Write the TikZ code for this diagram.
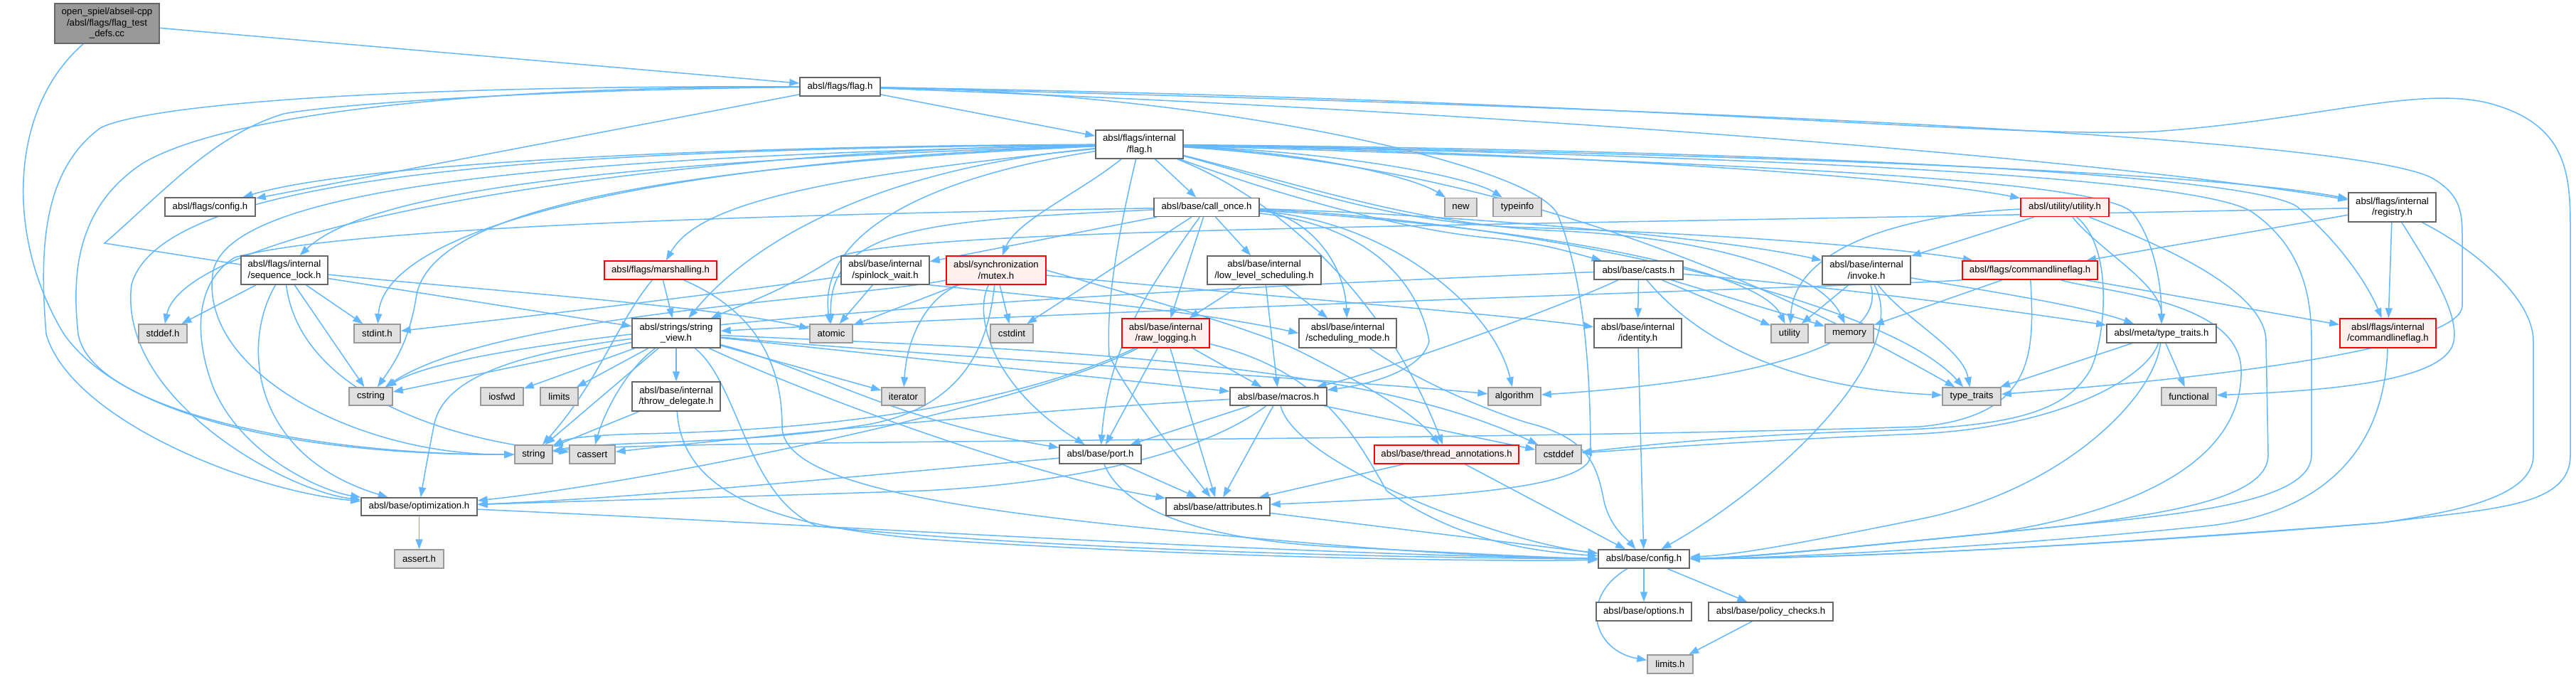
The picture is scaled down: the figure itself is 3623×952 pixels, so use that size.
\documentclass[tikz,border=0pt]{standalone}
\usepackage{fontspec}
\setmainfont{Liberation Sans}
\usetikzlibrary{arrows.meta}
\definecolor{edgec}{HTML}{63B8FF}
\definecolor{bd}{HTML}{666666}
\definecolor{bdx}{HTML}{999999}
\definecolor{fx}{HTML}{E0E0E0}
\definecolor{fr}{HTML}{FFF0F0}
\definecolor{rootf}{HTML}{999999}
\newcommand{\lbl}{\fontsize{13.2}{15.5}\selectfont}
\pgfdeclarelayer{bg}
\pgfdeclarelayer{canvasbg}
\pgfsetlayers{canvasbg,bg,main}
\tikzset{
 nd/.style={draw=bd, fill=white, line width=1.5pt, inner sep=0pt, font=\lbl, align=center},
 ext/.style={nd, draw=bdx, fill=fx},
 trunc/.style={nd, draw=red, fill=fr},
 rootn/.style={nd, draw=bd, fill=rootf},
 e/.style={draw=edgec, line width=1.5pt, -{Triangle[length=14pt,width=10pt]}},
}
\begin{document}
\begin{tikzpicture}[x=1pt,y=-1pt]
\useasboundingbox (0,0) rectangle (3623,952);
\begin{pgfonlayer}{canvasbg}
\fill[white] (0,0) rectangle (3623,952);
\end{pgfonlayer}
% nodes
\node[rootn, minimum width=147pt, minimum height=56pt] (root) at (150.5,33) {open\_spiel/abseil-cpp\\/absl/flags/flag\_test\\\_defs.cc};
\node[nd, minimum width=113pt, minimum height=26pt] (flagh) at (1181.5,122) {absl/flags/flag.h};
\node[nd, minimum width=123pt, minimum height=40pt] (iflag) at (1602.5,203) {absl/flags/internal\\/flag.h};
\node[nd, minimum width=127pt, minimum height=26pt] (fconfig) at (295.5,291) {absl/flags/config.h};
\node[nd, minimum width=148pt, minimum height=26pt] (callonce) at (1697,291.5) {absl/base/call\_once.h};
\node[ext, minimum width=45pt, minimum height=26pt] (newh) at (2054.5,291.5) {new};
\node[ext, minimum width=68pt, minimum height=26pt] (typeinfo) at (2134,291.5) {typeinfo};
\node[trunc, minimum width=124pt, minimum height=26pt] (utilityh) at (2904,291.5) {absl/utility/utility.h};
\node[nd, minimum width=123pt, minimum height=41pt] (registry) at (3364.5,291.5) {absl/flags/internal\\/registry.h};
\node[nd, minimum width=122pt, minimum height=40pt] (seqlock) at (400,380) {absl/flags/internal\\/sequence\_lock.h};
\node[trunc, minimum width=158pt, minimum height=26pt] (marshalling) at (929,380) {absl/flags/marshalling.h};
\node[nd, minimum width=124pt, minimum height=40pt] (spinlock) at (1245,380) {absl/base/internal\\/spinlock\_wait.h};
\node[trunc, minimum width=140pt, minimum height=40pt] (mutex) at (1401,380) {absl/synchronization\\/mutex.h};
\node[nd, minimum width=160pt, minimum height=40pt] (lowlevel) at (1778,380) {absl/base/internal\\/low\_level\_scheduling.h};
\node[nd, minimum width=125pt, minimum height=26pt] (casts) at (2304.5,380) {absl/base/casts.h};
\node[nd, minimum width=124pt, minimum height=40pt] (invoke) at (2625,380) {absl/base/internal\\/invoke.h};
\node[trunc, minimum width=190pt, minimum height=26pt] (cmdflag) at (2855,380) {absl/flags/commandlineflag.h};
\node[ext, minimum width=68pt, minimum height=26pt] (stddef) at (229,469) {stddef.h};
\node[ext, minimum width=65pt, minimum height=26pt] (stdint) at (530.5,469) {stdint.h};
\node[nd, minimum width=124pt, minimum height=41pt] (strview) at (951,468.5) {absl/strings/string\\\_view.h};
\node[ext, minimum width=60pt, minimum height=26pt] (atomic) at (1169,469) {atomic};
\node[ext, minimum width=60pt, minimum height=26pt] (cstdint) at (1423,469) {cstdint};
\node[trunc, minimum width=123pt, minimum height=41pt] (rawlog) at (1639.5,468.5) {absl/base/internal\\/raw\_logging.h};
\node[nd, minimum width=137pt, minimum height=41pt] (schedmode) at (1895.5,468.5) {absl/base/internal\\/scheduling\_mode.h};
\node[nd, minimum width=123pt, minimum height=41pt] (identity) at (2303.5,468.5) {absl/base/internal\\/identity.h};
\node[ext, minimum width=52pt, minimum height=26pt] (utility) at (2517,469) {utility};
\node[ext, minimum width=68pt, minimum height=26pt] (memory) at (2601,469) {memory};
\node[nd, minimum width=154pt, minimum height=26pt] (metatt) at (3040,469) {absl/meta/type\_traits.h};
\node[trunc, minimum width=135pt, minimum height=41pt] (icmdflag) at (3358.5,468.5) {absl/flags/internal\\/commandlineflag.h};
\node[ext, minimum width=61pt, minimum height=25pt] (cstring) at (521.5,557.5) {cstring};
\node[ext, minimum width=60pt, minimum height=25pt] (iosfwd) at (706,557.5) {iosfwd};
\node[ext, minimum width=53pt, minimum height=25pt] (limits) at (786.5,557.5) {limits};
\node[nd, minimum width=124pt, minimum height=41pt] (throwdel) at (951,557.5) {absl/base/internal\\/throw\_delegate.h};
\node[ext, minimum width=61pt, minimum height=25pt] (iterator) at (1270.5,557.5) {iterator};
\node[nd, minimum width=136pt, minimum height=25pt] (macros) at (1798,557.5) {absl/base/macros.h};
\node[ext, minimum width=74pt, minimum height=25pt] (algorithm) at (2130,557.5) {algorithm};
\node[ext, minimum width=82pt, minimum height=25pt] (typetraits) at (2773,557.5) {type\_traits};
\node[ext, minimum width=77pt, minimum height=25pt] (functional) at (3078.5,557.5) {functional};
\node[ext, minimum width=53pt, minimum height=26pt] (string) at (750.5,639) {string};
\node[ext, minimum width=64pt, minimum height=26pt] (cassert) at (833,639) {cassert};
\node[nd, minimum width=115pt, minimum height=26pt] (port) at (1547.5,639) {absl/base/port.h};
\node[trunc, minimum width=203pt, minimum height=26pt] (threadann) at (2034.5,639) {absl/base/thread\_annotations.h};
\node[ext, minimum width=64pt, minimum height=26pt] (cstddef) at (2192,639) {cstddef};
\node[nd, minimum width=163pt, minimum height=25pt] (optim) at (589.5,712.5) {absl/base/optimization.h};
\node[nd, minimum width=146pt, minimum height=25pt] (attributes) at (1713,712.5) {absl/base/attributes.h};
\node[ext, minimum width=69pt, minimum height=26pt] (assert) at (589.5,786) {assert.h};
\node[nd, minimum width=128pt, minimum height=26pt] (config) at (2312,786) {absl/base/config.h};
\node[nd, minimum width=134pt, minimum height=26pt] (options) at (2312,860) {absl/base/options.h};
\node[nd, minimum width=175pt, minimum height=26pt] (policy) at (2490.5,860) {absl/base/policy\_checks.h};
\node[ext, minimum width=64pt, minimum height=26pt] (limitsh) at (2349,934) {limits.h};
\begin{pgfonlayer}{bg}
% root
\draw[e] (root) -- (flagh);
\draw[e] (root) .. controls (15,150) and (5,330) .. (90,470) .. controls (190,610) and (500,640) .. (string);
% flag.h
\draw[e] (flagh) -- (fconfig);
\draw[e] (flagh) -- (iflag);
\draw[e] (flagh) .. controls (2200,160) and (3000,230) .. (registry);
\draw[e] (flagh) .. controls (2300,140) and (2800,195) .. (3029,185) .. controls (3250,170) and (3400,120) .. (3500,145) .. controls (3615,175) and (3615,250) .. (3615,330) -- (3615,640) .. controls (3615,715) and (3500,715) .. (3350,735) .. controls (2900,770) and (2600,785) .. (config);
\draw[e] (flagh) .. controls (2300,150) and (3300,190) .. (3420,250) .. controls (3463,275) and (3463,300) .. (3463,340) -- (3463,430) .. controls (3463,480) and (3200,525) .. (typetraits);
\draw[e] (flagh) .. controls (500,120) and (200,150) .. (141,180) .. controls (60,240) and (55,350) .. (65,470) .. controls (100,590) and (350,690) .. (optim);
\draw[e] (flagh) .. controls (600,122) and (300,170) .. (200,230) .. controls (110,290) and (100,380) .. (110,470) .. controls (130,580) and (450,640) .. (string);
\draw[e] (flagh) .. controls (700,127) and (450,150) .. (399,160) .. controls (300,190) and (230,270) .. (147,342) -- (strview);
\draw[e] (flagh) .. controls (1700,130) and (2150,230) .. (2190,300) .. controls (2232,400) and (2237,550) .. (2237,640) .. controls (2237,690) and (2000,700) .. (attributes);
% internal/flag.h
\draw[e] (iflag) .. controls (900,212) and (260,320) .. (stddef);
\draw[e] (iflag) .. controls (920,227) and (540,320) .. (stdint);
\draw[e] (iflag) .. controls (1000,205) and (500,230) .. (fconfig);
\draw[e] (iflag) .. controls (900,225) and (520,265) .. (seqlock);
\draw[e] (iflag) .. controls (900,235) and (600,300) .. (585,420) .. controls (575,480) and (555,510) .. (cstring);
\draw[e] (iflag) .. controls (800,220) and (330,260) .. (300,380) .. controls (275,520) and (500,640) .. (string);
\draw[e] (iflag) .. controls (800,210) and (230,240) .. (185,400) .. controls (165,560) and (400,690) .. (optim);
\draw[e] (iflag) .. controls (1300,250) and (1150,330) .. (atomic);
\draw[e] (iflag) .. controls (1135,250) and (980,290) .. (marshalling);
\draw[e] (iflag) .. controls (1200,240) and (1040,360) .. (strview);
\draw[e] (iflag) .. controls (1520,270) and (1430,310) .. (mutex);
\draw[e] (iflag) -- (callonce);
\draw[e] (iflag) .. controls (1575,320) and (1555,420) .. (1560,500) .. controls (1590,560) and (1640,620) .. (attributes);
\draw[e] (iflag) .. controls (1800,280) and (1950,420) .. (threadann);
\draw[e] (iflag) .. controls (1800,275) and (1980,325) .. (2100,335) .. controls (2170,342) and (2210,355) .. (casts);
\draw[e] (iflag) .. controls (1850,215) and (1990,250) .. (newh);
\draw[e] (iflag) .. controls (1900,215) and (2070,250) .. (typeinfo);
\draw[e] (iflag) .. controls (2200,215) and (2700,250) .. (utilityh);
\draw[e] (iflag) .. controls (2400,215) and (3100,240) .. (registry);
\draw[e] (iflag) .. controls (1800,255) and (1950,315) .. (2150,320) .. controls (2450,330) and (2680,350) .. (cmdflag);
\draw[e] (iflag) .. controls (2400,210) and (3150,240) .. (3230,290) .. controls (3290,340) and (3330,400) .. (icmdflag);
\draw[e] (iflag) .. controls (2400,228) and (2960,250) .. (3000,300) .. controls (3030,340) and (3040,400) .. (metatt);
\draw[e] (iflag) .. controls (2200,240) and (2600,460) .. (typetraits);
\draw[e] (iflag) .. controls (1850,265) and (2000,318) .. (2200,325) .. controls (2400,335) and (2560,380) .. (memory);
\draw[e] (iflag) .. controls (2400,218) and (3100,245) .. (3170,300) .. controls (3240,350) and (3251,420) .. (3251,480) -- (3251,640) .. controls (3251,700) and (3100,720) .. (2950,735) .. controls (2700,760) and (2450,785) .. (config);
% call_once.h
\draw[e] (callonce) .. controls (1200,300) and (500,315) .. (330,362) .. controls (270,400) and (275,480) .. (300,545) .. controls (340,640) and (450,690) .. (optim);
\draw[e] (callonce) .. controls (1300,310) and (1165,320) .. (atomic);
\draw[e] (callonce) -- (spinlock);
\draw[e] (callonce) -- (cstdint);
\draw[e] (callonce) .. controls (1620,400) and (1560,480) .. (port);
\draw[e] (callonce) -- (rawlog);
\draw[e] (callonce) -- (lowlevel);
\draw[e] (callonce) .. controls (1830,300) and (1890,360) .. (schedmode);
\draw[e] (callonce) .. controls (1950,320) and (2000,420) .. (2010,480) .. controls (2000,520) and (1930,540) .. (macros);
\draw[e] (callonce) .. controls (1950,310) and (2100,430) .. (algorithm);
\draw[e] (callonce) .. controls (2100,315) and (2470,370) .. (utility);
\draw[e] (callonce) .. controls (2150,310) and (2650,420) .. (typetraits);
\draw[e] (callonce) .. controls (2000,300) and (2400,330) .. (invoke);
% sequence_lock.h
\draw[e] (seqlock) -- (stddef);
\draw[e] (seqlock) -- (stdint);
\draw[e] (seqlock) .. controls (700,410) and (1000,430) .. (atomic);
\draw[e] (seqlock) -- (cstring);
\draw[e] (seqlock) .. controls (340,480) and (350,640) .. (optim);
\draw[e] (seqlock) .. controls (420,540) and (600,615) .. (cassert);
% marshalling.h
\draw[e] (marshalling) -- (strview);
\draw[e] (marshalling) .. controls (870,450) and (840,540) .. (string);
\draw[e] (marshalling) .. controls (1070,440) and (1100,520) .. (1100,600) .. controls (1100,690) and (1400,725) .. (1800,760) .. controls (2000,778) and (2150,785) .. (config);
% spinlock_wait.h
\draw[e] (spinlock) .. controls (1000,415) and (700,450) .. (stdint);
\draw[e] (spinlock) -- (atomic);
\draw[e] (spinlock.south east) .. controls (1500,420) and (1700,440) .. (schedmode.west);
% mutex.h
\draw[e] (mutex) -- (atomic);
\draw[e] (mutex) -- (cstdint);
\draw[e] (mutex) .. controls (1200,420) and (700,440) .. (cstring);
\draw[e] (mutex) .. controls (1390,480) and (1360,580) .. (1200,600) .. controls (1050,625) and (850,620) .. (string);
\draw[e] (mutex) .. controls (1300,420) and (1275,480) .. (iterator);
\draw[e] (mutex) .. controls (1370,440) and (1390,540) .. (port);
\draw[e] (mutex) .. controls (1700,410) and (2100,440) .. (identity);
\draw[e] (mutex.east) .. controls (1650,430) and (1780,470) .. (1830,495) .. controls (1900,530) and (1990,580) .. (threadann);
% low_level_scheduling.h
\draw[e] (lowlevel) -- (rawlog);
\draw[e] (lowlevel) -- (schedmode);
\draw[e] (lowlevel) -- (macros);
% casts.h
\draw[e] (casts) .. controls (2200,430) and (1950,520) .. (macros);
\draw[e] (casts) -- (identity);
\draw[e] (casts) -- (utility);
\draw[e] (casts) -- (memory);
\draw[e] (casts) .. controls (2600,405) and (2850,440) .. (metatt);
\draw[e] (casts) .. controls (2380,470) and (2500,545) .. (typetraits);
\draw[e] (casts) .. controls (1800,400) and (700,450) .. (cstring);
% invoke.h
\draw[e] (invoke) -- (utility);
\draw[e] (invoke) .. controls (2660,500) and (2400,540) .. (algorithm);
\draw[e] (invoke) .. controls (2680,450) and (2760,490) .. (typetraits);
\draw[e] (invoke) .. controls (2800,410) and (2930,430) .. (metatt);
\draw[e] (invoke) .. controls (2690,500) and (2500,680) .. (config);
% commandlineflag.h
\draw[e] (cmdflag) -- (memory);
\draw[e] (cmdflag) .. controls (2862,500) and (2860,585) .. (2700,600) .. controls (2000,622) and (900,618) .. (string);
\draw[e] (cmdflag) .. controls (2950,410) and (3150,420) .. (3152,520) .. controls (3155,650) and (3000,720) .. (2800,750) .. controls (2600,770) and (2450,785) .. (config);
\draw[e] (cmdflag) -- (icmdflag);
\draw[e] (cmdflag.south west) .. controls (2700,400) and (1800,425) .. (strview);
% utility.h
\draw[e] (utilityh) .. controls (2700,300) and (2525,340) .. (utility);
\draw[e] (utilityh) -- (invoke);
\draw[e] (utilityh) .. controls (2950,350) and (3040,400) .. (metatt);
\draw[e] (utilityh) .. controls (3000,330) and (3187,400) .. (3187,480) -- (3190,640) .. controls (3190,700) and (3050,722) .. (2900,740) .. controls (2650,765) and (2450,785) .. (config);
\draw[e] (utilityh) .. controls (2975,350) and (2960,480) .. (2940,520) .. controls (2900,590) and (2800,602) .. (2600,607) .. controls (2400,615) and (2300,628) .. (cstddef);
% registry.h
\draw[e] (registry) -- (cmdflag);
\draw[e] (registry) -- (icmdflag);
\draw[e] (registry) .. controls (3420,380) and (3458,440) .. (3451,480) .. controls (3440,540) and (3250,550) .. (functional);
\draw[e] (registry) .. controls (3480,350) and (3563,420) .. (3563,480) -- (3563,640) .. controls (3563,700) and (3450,720) .. (3350,735) .. controls (3000,765) and (2600,785) .. (config);
\draw[e] (registry) .. controls (2000,320) and (1250,320) .. (1170,365) .. controls (1100,410) and (1040,430) .. (strview);
% string_view.h
\draw[e] (strview) -- (cstring);
\draw[e] (strview) -- (iosfwd);
\draw[e] (strview) -- (limits);
\draw[e] (strview) -- (throwdel);
\draw[e] (strview) -- (string);
\draw[e] (strview) .. controls (880,520) and (850,580) .. (cassert);
\draw[e] (strview) -- (iterator);
\draw[e] (strview) -- (macros);
\draw[e] (strview) .. controls (1300,500) and (1900,535) .. (algorithm);
\draw[e] (strview) .. controls (1400,490) and (1900,500) .. (cstddef);
\draw[e] (strview) .. controls (1150,520) and (1250,590) .. (port);
\draw[e] (strview) .. controls (1150,560) and (1450,670) .. (attributes);
\draw[e] (strview) .. controls (1040,540) and (1050,700) .. (1150,740) .. controls (1500,775) and (2000,785) .. (config);
\draw[e] (strview) .. controls (700,500) and (620,540) .. (610,600) .. controls (600,650) and (595,680) .. (optim);
% throw_delegate.h
\draw[e] (throwdel) -- (string);
\draw[e] (throwdel) .. controls (960,700) and (1100,740) .. (1300,758) .. controls (1700,785) and (2100,790) .. (config);
% raw_logging.h
\draw[e] (rawlog) .. controls (1450,560) and (1200,605) .. (900,610) .. controls (830,612) and (800,616) .. (string);
\draw[e] (rawlog) .. controls (1450,570) and (900,680) .. (optim);
\draw[e] (rawlog) -- (port);
\draw[e] (rawlog) -- (attributes);
\draw[e] (rawlog) -- (macros);
\draw[e] (rawlog) .. controls (1850,520) and (1900,600) .. (1950,690) .. controls (2050,760) and (2150,775) .. (config);
% macros.h
\draw[e] (macros) .. controls (1400,580) and (1000,620) .. (cassert);
\draw[e] (macros) -- (cstddef);
\draw[e] (macros) -- (attributes);
\draw[e] (macros) .. controls (1820,650) and (2100,760) .. (config);
\draw[e] (macros) .. controls (1690,640) and (1500,680) .. (1300,690) .. controls (1000,700) and (800,705) .. (optim);
\draw[e] (macros) -- (port);
% port.h
\draw[e] (port) -- (attributes);
\draw[e] (port) .. controls (1580,720) and (1700,762) .. (1900,770) .. controls (2100,780) and (2200,785) .. (config);
\draw[e] (port) .. controls (1200,670) and (900,700) .. (optim);
% thread_annotations.h
\draw[e] (threadann) -- (attributes);
\draw[e] (threadann) -- (config);
% optimization.h, attributes.h
\draw[e] (optim) -- (assert);
\draw[e] (optim) .. controls (1200,740) and (1800,780) .. (config);
\draw[e] (attributes) -- (config);
% others
\draw[e] (identity) -- (config);
\draw[e] (schedmode) .. controls (2000,540) and (2100,580) .. (2150,595) .. controls (2230,615) and (2245,650) .. (2255,700) .. controls (2262,740) and (2290,760) .. (config);
\draw[e] (icmdflag) .. controls (3355,600) and (3300,720) .. (3100,740) .. controls (2800,770) and (2500,785) .. (config);
\draw[e] (metatt) -- (typetraits);
\draw[e] (metatt) -- (functional);
\draw[e] (metatt) .. controls (3020,530) and (2900,600) .. (2700,610) .. controls (2450,620) and (2300,632) .. (cstddef);
\draw[e] (metatt) .. controls (3030,560) and (2900,690) .. (2700,730) .. controls (2550,760) and (2450,780) .. (config);
% config.h
\draw[e] (config) -- (options);
\draw[e] (config) -- (policy);
\draw[e] (config) .. controls (2220,840) and (2240,915) .. (limitsh);
\draw[e] (policy) -- (limitsh);
\end{pgfonlayer}
\end{tikzpicture}
\end{document}
